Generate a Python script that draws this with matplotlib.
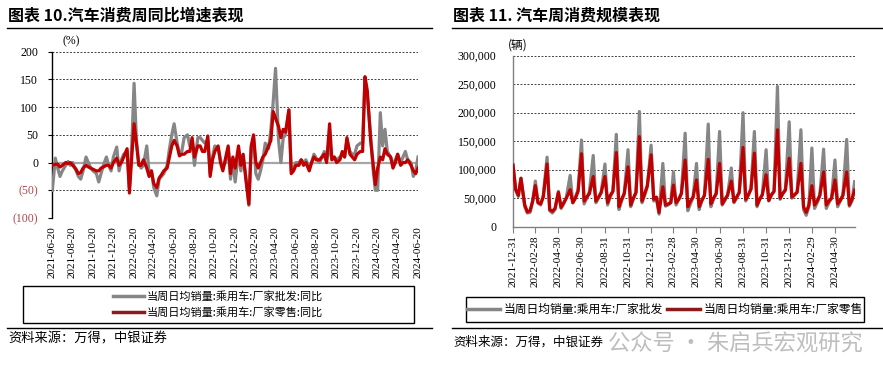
import matplotlib.pyplot as plt
from matplotlib.lines import Line2D
from matplotlib.patches import Rectangle
import pandas as pd

plt.rcParams['font.family'] = ['Liberation Serif', 'Noto Sans CJK SC', 'DejaVu Sans']
CJK = ['Noto Sans CJK SC', 'DejaVu Sans']

# 图表10: 当周日均销量同比 (%), 每月 7日/14日/21日/月末
wholesale_yoy = [
    -50, 8,                                   # 2021-06
    -10, -25, -15, -5,  2, -5, 0, -15,  -25, -30, -15, 10,
    0, -10, -15, -20,  -35, -20, -5, 10,  -5, -15, 10, 28,
    -15, 5, 15, 20,  -45, 30, 143, 40,  0, -10, -5, 30,      # 2022-01..03
    -20, -15, -45, -60,  -30, -25, -20, -5,  25, 50, 70, 35,
    15, 20, 45, 50,  30, 35, -5, 45,  45, 40, 35, 40,
    -20, 10, 30, 25,  5, -10, 0, 25,  -30, 5, -35, 20,
    -15, 10, -20, -77,  25, 45, -20, -30,  -15, 5, 35, 25,   # 2023-01..03
    60, 110, 170, 40,  0, 45, 50, 95,  -15, -10, 0, 0,
    5, 0, 5, -10,  0, 15, 8, 0,  10, 20, 5, 25,
    5, 10, 5, 10,  15, 10, 40, 20,  15, 15, 30, 35,
    35, 150, 120, 50,  -10, -50, -50, 90,  30, 60, 20, 10,   # 2024-01..03
    -5, 5, 15, 0,  10, 20, 5, 0,  -25, -15, 10,
]
retail_yoy = [
    -5, -3,
    -3, -8, -5, 0,  -2, 0, -5, -12,  -20, -18, -10, -5,
    -8, -10, -12, -15,  -15, -10, -8, -5,  -5, -10, 0, 8,
    -5, 0, 10, 25,  -55, 10, 70, 35,  -5, -5, 5, -10,
    -25, -15, -38, -45,  -28, -22, -15, -10,  10, 30, 40, 30,
    12, 15, 15, 20,  20, 45, 10, 30,  30, 20, 20, 48,
    -25, 5, 20, 30,  0, -15, 5, 30,  -20, 10, -10, 30,
    -5, 15, -25, -75,  30, 50, 0, -10,  0, 10, 15, 30,
    40, 92, 80, 65,  45, 60, 55, 95,  -20, -15, -5, -5,
    5, -5, 0, -15,  0, 10, 5, 5,  10, 15, 0, 70,
    5, 10, 0, 5,  20, 10, 45, 15,  10, 5, 15, 20,
    20, 155, 130, 40,  0, -40, -10, 10,  5, 25, 15, 10,
    -10, 0, 15, -5,  0, 0, 5, -5,  -15, -20, -10,
]
yoy_ticks = ['2021-06-20', '2021-08-20', '2021-10-20', '2021-12-20', '2022-02-20',
             '2022-04-20', '2022-06-20', '2022-08-20', '2022-10-20', '2022-12-20',
             '2023-02-20', '2023-04-20', '2023-06-20', '2023-08-20', '2023-10-20',
             '2023-12-20', '2024-02-20', '2024-04-20', '2024-06-20']
yoy_yticks = [-100, -50, 0, 50, 100, 150, 200]
yoy_ylabels = ['(100)', '(50)', '0', '50', '100', '150', '200']

# 图表11: 当周日均销量 (千辆)
wholesale_k = [
    108,                                      # 2021-12-31
    65, 53, 85, 35,  24, 25, 45, 80,  42, 38, 55, 122,  28, 24, 30, 62,
    32, 40, 52, 90,  42, 52, 65, 152,  40, 50, 62, 125,  42, 50, 60, 110,
    38, 52, 62, 162,  30, 45, 58, 135,  35, 48, 60, 202,  42, 55, 70, 143,
    45, 50, 22, 111,  36, 38, 42, 96,  38, 48, 58, 164,  28, 40, 52, 111,
    30, 45, 55, 180,  35, 48, 58, 167,  38, 46, 55, 103,  42, 50, 60, 200,
    45, 55, 66, 167,  35, 48, 56, 135,  45, 55, 62, 246,  48, 58, 66, 184,
    50, 55, 62, 170,  30, 20, 35, 138,  32, 42, 55, 136,  32, 42, 50, 117,
    35, 45, 55, 153,  36, 45, 79,
]
retail_k = [
    108,
    65, 55, 85, 38,  26, 28, 45, 72,  42, 40, 52, 110,  30, 27, 32, 60,
    34, 42, 50, 65,  42, 50, 62, 128,  45, 52, 58, 88,  45, 52, 60, 88,
    42, 55, 62, 130,  35, 48, 58, 105,  38, 50, 60, 158,  45, 58, 72, 126,
    48, 52, 25, 70,  38, 40, 42, 73,  42, 48, 58, 117,  35, 45, 52, 82,
    35, 46, 55, 118,  40, 50, 58, 111,  40, 48, 55, 80,  44, 52, 60, 139,
    48, 56, 66, 129,  38, 48, 56, 91,  46, 56, 62, 170,  50, 58, 64, 120,
    52, 56, 60, 111,  35, 25, 38, 72,  38, 45, 55, 96,  38, 45, 50, 82,
    40, 46, 55, 96,  38, 48, 64,
]
vol_ticks = ['2021-12-31', '2022-02-28', '2022-04-30', '2022-06-30', '2022-08-31',
             '2022-10-31', '2022-12-31', '2023-02-28', '2023-04-30', '2023-06-30',
             '2023-08-31', '2023-10-31', '2023-12-31', '2024-02-29', '2024-04-30']
vol_yticks = [0, 50000, 100000, 150000, 200000, 250000, 300000]


def weekly_dates(start, end):
    start, end = pd.Timestamp(start), pd.Timestamp(end)
    out = []
    for p in pd.period_range(start, end, freq='M'):
        s = p.start_time
        for d in [s + pd.Timedelta(days=6), s + pd.Timedelta(days=13),
                  s + pd.Timedelta(days=20), p.end_time.normalize()]:
            if start <= d <= end:
                out.append(d)
    return out


yoy_dates = weekly_dates('2021-06-21', '2024-06-21')
vol_dates = weekly_dates('2021-12-31', '2024-06-21')

GRAY = '#868686'
RED = '#C00000'
GRID = dict(color='#444444', lw=0.7, ls=(0, (2, 1.6)))

fig = plt.figure(figsize=(8.83, 3.78), dpi=100)

# ---------- left chart ----------
ax1 = fig.add_axes([0.0589, 0.4233, 0.4145, 0.4399])
ax1.plot(yoy_dates, wholesale_yoy, color=GRAY, lw=2.3, zorder=3)
ax1.plot(yoy_dates, retail_yoy, color=RED, lw=2.3, zorder=4)
for v in yoy_yticks:
    if v != 0:
        ax1.axhline(v, zorder=1, **GRID)
ax1.axhline(0, color='#A6A6A6', lw=1.6, zorder=2)
ax1.set_ylim(-100, 200)
ax1.set_xlim(pd.Timestamp('2021-06-20'), pd.Timestamp('2024-06-21'))
ax1.set_yticks(yoy_yticks)
ax1.set_yticklabels(yoy_ylabels, fontsize=8.5)
for lab, v in zip(ax1.get_yticklabels(), yoy_yticks):
    if v < 0:
        lab.set_color('#B5434A')
ax1.set_xticks(pd.to_datetime(yoy_ticks))
ax1.set_xticklabels(yoy_ticks, rotation=90, fontsize=8)
ax1.tick_params(axis='x', length=0, pad=6)
ax1.tick_params(axis='y', length=3, width=0.8, pad=7)
for s in ['top', 'right', 'bottom']:
    ax1.spines[s].set_visible(False)
ax1.spines['left'].set_linewidth(1.0)
fig.text(0.071, 0.883, '(%)', fontsize=8.5)

# ---------- right chart ----------
ax2 = fig.add_axes([0.581, 0.4003, 0.3873, 0.4524])
ax2.plot(vol_dates, [v * 1000 for v in wholesale_k], color=GRAY, lw=2.3, zorder=3)
ax2.plot(vol_dates, [v * 1000 for v in retail_k], color=RED, lw=2.3, zorder=4)
for v in vol_yticks[1:]:
    ax2.axhline(v, zorder=1, **GRID)
ax2.set_ylim(0, 300000)
ax2.set_xlim(pd.Timestamp('2021-12-31'), pd.Timestamp('2024-06-22'))
ax2.set_yticks(vol_yticks)
ax2.set_yticklabels([f'{v:,}' for v in vol_yticks], fontsize=8.5)
ax2.set_xticks(pd.to_datetime(vol_ticks))
ax2.set_xticklabels(vol_ticks, rotation=90, fontsize=8)
ax2.tick_params(axis='x', length=4, width=0.8, color='#808080', pad=2)
ax2.tick_params(axis='y', length=0, pad=12)
for s in ['top', 'right']:
    ax2.spines[s].set_visible(False)
for s in ['left', 'bottom']:
    ax2.spines[s].set_color('#808080')
    ax2.spines[s].set_linewidth(1.0)
fig.text(0.575, 0.872, '(辆)', fontsize=8.5, family=CJK)

# ---------- titles, rules, legends, source ----------
fig.text(0.009, 0.958, '图表 10.汽车消费周同比增速表现', fontsize=11.5, weight='bold',
         va='center', family=CJK)
fig.text(0.513, 0.958, '图表 11. 汽车周消费规模表现', fontsize=11.5, weight='bold',
         va='center', family=CJK)
for x0, x1 in [(0.008, 0.489), (0.512, 1.0)]:
    for y in (0.925, 0.131):
        fig.add_artist(Line2D([x0, x1], [y, y], color='black', lw=1.0))

lh = [Line2D([], [], color=GRAY, lw=2.5), Line2D([], [], color='#8B1A1A', lw=2.5)]
names = ['当周日均销量:乘用车:厂家批发:同比', '当周日均销量:乘用车:厂家零售:同比']
fig.add_artist(Rectangle((0.0257, 0.1455), 0.4432, 0.0969, transform=fig.transFigure,
                         fill=False, ec='black', lw=1.0))
fig.legend(lh, names, loc='center', bbox_to_anchor=(0.247, 0.194), frameon=False,
           prop={'family': CJK, 'size': 8}, handlelength=2.8, handletextpad=0.3,
           labelspacing=0.45)

names2 = ['当周日均销量:乘用车:厂家批发', '当周日均销量:乘用车:厂家零售']
fig.add_artist(Rectangle((0.5277, 0.1487), 0.4507, 0.0661, transform=fig.transFigure,
                         fill=False, ec='black', lw=1.0))
fig.legend(lh, names2, loc='center', bbox_to_anchor=(0.753, 0.182), frameon=False, ncol=2,
           prop={'family': CJK, 'size': 8.5}, handlelength=2.8, handletextpad=0.3,
           columnspacing=0.3)

fig.text(0.009, 0.103, '资料来源：万得，中银证券', fontsize=9.5, style='italic', va='center',
         family=CJK)
fig.text(0.513, 0.095, '资料来源：万得，中银证券', fontsize=9, style='italic', va='center',
         family=CJK)
fig.text(0.688, 0.09, '公众号 · 朱启兵宏观研究', fontsize=16, color='#BDBDBD', va='center',
         family=CJK, zorder=5)

fig.savefig('out.png', dpi=100)
